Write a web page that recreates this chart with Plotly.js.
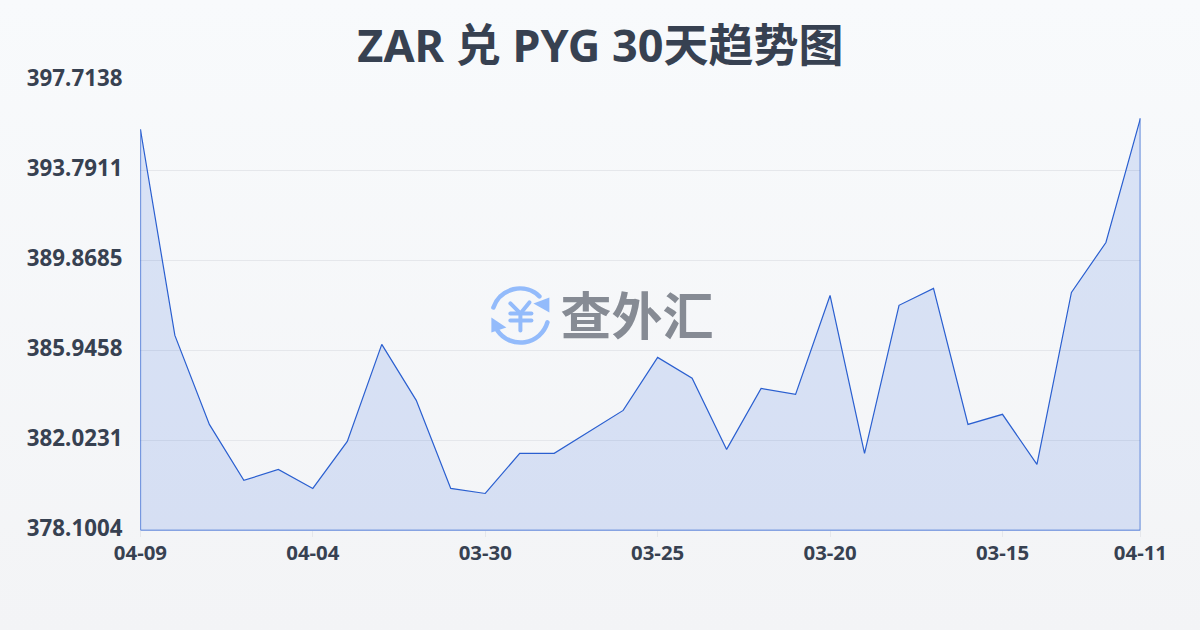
<!DOCTYPE html>
<html><head><meta charset="utf-8">
<script src="https://cdn.plot.ly/plotly-3.0.1.min.js"></script>
<style>
html,body{margin:0;padding:0;width:1200px;height:630px;overflow:hidden;background:linear-gradient(180deg,#f8fafc 0%,#f3f4f6 100%);}
#chart{width:1200px;height:630px;transform:translate(0.4px,0.4px);}
</style></head><body><div id="chart"></div>
<script>
const titleText = "ZAR 兑 PYG 30天趋势图";
const dates = ["04-09","04-08","04-07","04-06","04-05","04-04","04-03","04-02","04-01","03-31","03-30","03-29","03-28","03-27","03-26","03-25","03-24","03-23","03-22","03-21","03-20","03-19","03-18","03-17","03-16","03-15","03-14","03-13","03-12","04-11"];
const rates = [395.58,386.60,382.72,380.28,380.76,379.93,381.98,386.21,383.77,379.93,379.71,381.46,381.46,382.39,383.33,385.64,384.73,381.63,384.29,384.03,388.34,381.46,387.91,388.65,382.72,383.16,380.98,388.47,390.65,396.06];
const yTicks = [378.1004,382.0231,385.9458,389.8685,393.7911,397.7138];
const xTickLabels = ["04-09","04-04","03-30","03-25","03-20","03-15","04-11"];
const watermarkText = "查外汇";

const first = dates[0], last = dates[dates.length-1], yMin = yTicks[0], yMax = yTicks[yTicks.length-1];
const iconSvg = `<svg xmlns="http://www.w3.org/2000/svg" width="62" height="62" viewBox="0 0 62 62">
<g fill="none" stroke="#93bbfb" stroke-width="4.5" stroke-linecap="round" stroke-linejoin="round">
<path d="M4 22 A28 28 0 0 1 50 11"/><path d="M8 45 A28 28 0 0 0 58 37"/>
<path d="M21 18 L31 28 L40 17" stroke-width="4"/><path d="M31 28 L31 45" stroke-width="4"/><path d="M21 28 L42 28" stroke-width="4"/><path d="M21 35 L42 35" stroke-width="4"/>
</g>
<path d="M60 12 L60 27 L44 18 Z" fill="#93bbfb"/><path d="M2 32 L2 47 L17 42 Z" fill="#93bbfb"/>
</svg>`;

const fillTrace = {x:dates,y:rates,type:'scatter',mode:'lines',hoverinfo:'skip',
  line:{color:'#2a5fd0',width:1.2,shape:'linear'},
  fill:'tozeroy',fillcolor:'rgba(37,90,220,0.14)'};
const outlineTrace = {x:[first,first,last,last],y:[rates[0],yMin,yMin,rates[rates.length-1]],type:'scatter',mode:'lines',hoverinfo:'skip',
  line:{color:'#2a5fd0',width:1.4}};

const layout = {
  width:1200,height:630,showlegend:false,
  paper_bgcolor:'rgba(0,0,0,0)',plot_bgcolor:'rgba(0,0,0,0)',
  margin:{l:140,r:60,t:80,b:100,pad:0},
  title:{text:titleText,x:0.5,xanchor:'center',y:0.927,yanchor:'middle',font:{family:'"Noto Sans","Noto Sans CJK SC",sans-serif',size:45,color:'#374151',weight:700}},
  xaxis:{type:'category',categoryorder:'array',categoryarray:dates,range:[0,dates.length-1],tickmode:'array',tickvals:xTickLabels,ticktext:xTickLabels,
    showgrid:false,zeroline:false,showline:false,ticks:'outside',ticklen:6,tickwidth:1,tickcolor:'#e5e7eb',ticklabelstandoff:-2,
    tickfont:{family:'"Noto Sans",sans-serif',size:20.4,color:'#374151',weight:700}},
  yaxis:{range:[yMin,yMax],tickmode:'array',tickvals:yTicks,ticktext:yTicks.map(v=>v.toFixed(4)),
    showgrid:true,gridcolor:'#e5e7eb',gridwidth:1,zeroline:false,showline:false,ticks:'',ticklabelstandoff:17,ticklabelshift:-2,
    tickfont:{family:'"Noto Sans",sans-serif',size:22.3,color:'#374151',weight:700}},
  images:[{source:'data:image/svg+xml;utf8,'+encodeURIComponent(iconSvg),xref:'paper',yref:'paper',
    x:(489-140)/1000,y:(530-285)/450,sizex:62/1000,sizey:62/450,xanchor:'left',yanchor:'top',layer:'below'}],
  annotations:[{text:watermarkText,xref:'paper',yref:'paper',x:(636-140)/1000,y:(530-313)/450,xanchor:'center',yanchor:'middle',showarrow:false,
    font:{family:'"Noto Sans CJK SC",sans-serif',size:51,color:'#868b94',weight:700}}]
};
Plotly.newPlot('chart',[fillTrace,outlineTrace],layout,{displayModeBar:false,staticPlot:true});
</script></body></html>
